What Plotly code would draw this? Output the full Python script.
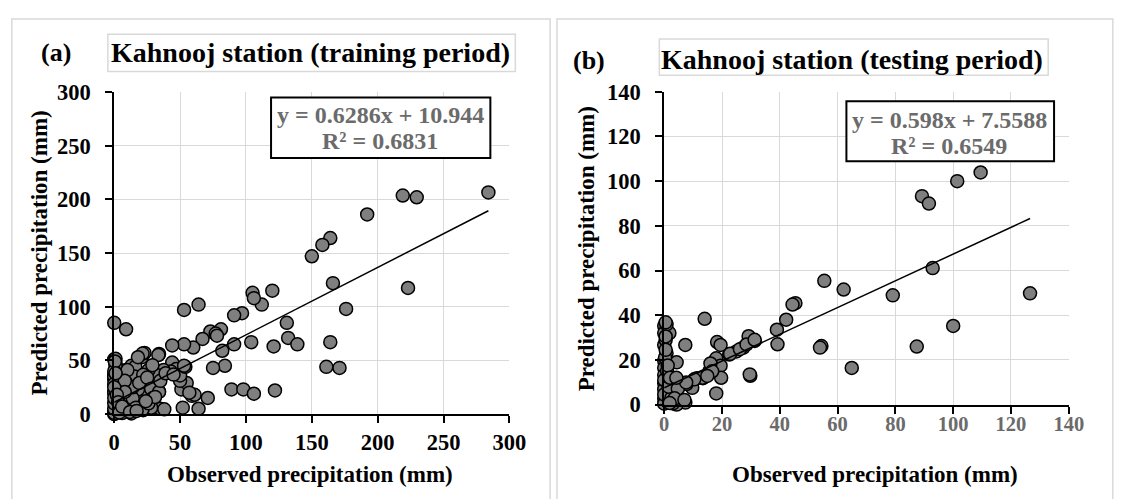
import plotly.graph_objects as go

# ---------------- data ----------------
train_obs = [284, 219, 229.6, 192, 164, 158, 150, 223, 166, 176, 112, 105, 106, 120, 97, 91, 64, 53,
             0, 9, 131, 132, 139, 164, 161, 171, 121, 104, 91, 82, 84, 75, 81, 73, 77, 78, 67, 60, 53, 44,
             89, 98, 106, 122, 71, 64, 52, 51, 55, 59, 61, 57, 50, 44, 47, 43, 50, 54, 53,
             0, 1, 1, 0, 0, 2, 0, 1, 2, 2, 5, 9, 13, 16, 21, 23, 34, 29, 37.5, 14, 11.4, 11.4, 9, 14, 18,
             22, 25, 28, 33, 34, 30, 29, 35, 22, 13, 6, 15.4, 22, 18, 5, 7.5, 5, 9, 29, 34, 26, 22,
             10, 1, 1, 0, 0, 0, 1.5, 4, 9, 14, 14, 19, 25, 28, 29, 28, 38, 21.5, 34, 35, 39, 45, 8, 8,
             16.5, 0, 21.5, 33.5, 18, 29, 0, 0, 0, 0, 0, 0, 0, 0.5, 1, 2, 3, 4, 6, 12, 26, 31, 24, 17]
train_pred = [206.5, 203.6, 202, 186, 164, 157.6, 147, 117.5, 122, 98, 102, 113, 108, 115, 94, 92, 102, 97,
              85, 79, 85, 71, 65, 67, 44, 43, 63, 67, 65, 59, 45, 43, 79, 77, 75, 73, 70, 62, 65, 64,
              23, 23, 19, 22, 15, 5, 6, 23, 29, 17, 18, 20, 31, 48, 42, 39.6, 36, 44, 45,
              51, 47, 42, 36, 32, 26, 20, 14, 8, 3.6, 2, 41, 45, 44, 53, 57, 56, 45, 41, 26, 18.5, 14, 8, 5, 9.5,
              14, 21, 26, 29, 21, 14, 6.5, 5, 3.6, 0.6, 1, 35, 29, 23, 23, 17, 11, 29, 35, 36, 41, 36.6,
              41, 51.5, 45.6, 35, 28, 20.6, 12, 4.4, 9, 14.7, 25, 29, 34, 23.5, 14.7, 6, 4.4, 4.4, 20.6, 31, 38, 36.8, 31, 20.6,
              6, 3, 56.4, 55, 53, 45.6, 0, 1, 5, 10, 15, 25, 40, 49, 38, 18, 11, 1.5, 7, 2, 10, 16, 12, 3]

test_obs = [109.5, 101.4, 89.2, 91.6, 126.6, 100, 92.9, 79.1, 87.4, 64.9, 62.1, 55.4, 54.4, 53.9,
            45.4, 44.4, 42.2, 39, 39.2, 31.3, 29.2, 27.4, 25, 22.5, 29.8, 18.3, 19.5, 18, 19.5, 19.7, 18,
            14, 15.8, 13.4, 11.3, 9.7, 7.3, 7.7, 7.3, 4.3, 4.3, 4.3,
            0, 0.8, 0, 1.8, 0, 0.8, 0, 0, 0, 0, 0, 0, 0, 1.8, 0.8, 0.5, 0, 1, 0.3, 0.5, 1.2, 0, 2.5, 3, 1.5, 2,
            22.8, 26.2, 28.5, 31.3, 29.6, 16, 16.6, 4.7, 3.6, 1.9, 13.2, 14.9, 10.4, 7.6, 7, 4.2, 0.5, 0.5]
test_pred = [103.9, 100, 93.3, 90, 49.8, 35.2, 61.1, 48.9, 26, 16.4, 51.5, 55.4, 26.2, 25.5,
             45.4, 44.8, 38, 33.5, 27, 28.5, 30.6, 25.5, 23.8, 22.4, 12.9, 28, 26.7, 20.7, 17.4, 12, 5,
             38.4, 15.3, 11.8, 11.8, 7.5, 26.7, 9.2, 0.9, 18.9, 6.8, 0,
             35.2, 33.7, 32, 32, 26.7, 23, 19.6, 16.4, 13.2, 9.6, 6.8, 2.6, 0.4, 1.1, 35.9, 29, 11, 15, 21, 24.5, 17.5, 4.5, 3, 0.5, 8, 12,
             22.7, 24.8, 26.9, 29, 13.5, 18.4, 14.9, 7.1, 2.8, 0.7, 12, 12.8, 11.3, 9.9, 2.1, 12, 36.8, 30.5]

slopes = [0.6286, 0.598]
intercepts = [10.944, 7.5588]
r_squared = [0.6831, 0.6549]
eq_texts = ["y = 0.6286x + 10.944", "y = 0.598x + 7.5588"]
r2_texts = ["R² = 0.6831", "R² = 0.6549"]
panel_titles = ["Kahnooj station (training period)", "Kahnooj station (testing period)"]
panel_letters = ["(a)", "(b)"]
axis_max = [300, 140]
axis_step = [50, 20]
x_title = "Observed precipitation (mm)"
y_title = "Predicted precipitation (mm)"

# ---------------- layout helpers ----------------
W, H = 1122, 499
def px(x):
    return x / W
def py(y):
    return 1 - y / H

FONT = "Liberation Serif"
GRID = "#d9d9d9"
GRAYTXT = "#6b6b6b"

fig = go.Figure()

datasets = [(train_obs, train_pred), (test_obs, test_pred)]
xaxes = ["x", "x2"]
yaxes = ["y", "y2"]
for i, (xo, yp) in enumerate(datasets):
    fig.add_trace(go.Scatter(
        x=xo, y=yp, mode="markers", xaxis=xaxes[i], yaxis=yaxes[i],
        marker=dict(size=13, color="#7f7f7f", line=dict(color="black", width=1.5)),
        cliponaxis=False, showlegend=False, hoverinfo="skip"))
    x0, x1 = min(xo), max(xo)
    fig.add_trace(go.Scatter(
        x=[x0, x1], y=[slopes[i] * x0 + intercepts[i], slopes[i] * x1 + intercepts[i]],
        mode="lines", xaxis=xaxes[i], yaxis=yaxes[i],
        line=dict(color="black", width=1.5), showlegend=False, hoverinfo="skip"))

# plot-area pixel geometry
areas = [dict(l=110.5, r=514, t=84.3, b=423.3), dict(l=672, r=1085, t=84, b=413.3)]

def axis_common(maxv, step, tickcolor_lbl, standoff, size):
    return dict(range=[0, maxv], dtick=step, tick0=0, showline=True, linecolor="black",
                linewidth=2, showgrid=True, gridcolor=GRID, gridwidth=1, zeroline=False,
                ticks="outside", ticklen=7, tickwidth=2, tickcolor="black",
                tickfont=dict(family=FONT, size=size, color=tickcolor_lbl, weight="bold"),
                ticklabelstandoff=standoff, fixedrange=True)

fig.update_layout(
    xaxis=dict(domain=[px(areas[0]["l"]), px(areas[0]["r"])], anchor="y",
               **axis_common(axis_max[0], axis_step[0], "black", 0, 22.5)),
    yaxis=dict(domain=[py(areas[0]["b"]), py(areas[0]["t"])], anchor="x",
               **axis_common(axis_max[0], axis_step[0], "black", 10, 22.5)),
    xaxis2=dict(domain=[px(areas[1]["l"]), px(areas[1]["r"])], anchor="y2",
                **axis_common(axis_max[1], axis_step[1], GRAYTXT, -7, 20.5)),
    yaxis2=dict(domain=[py(areas[1]["b"]), py(areas[1]["t"])], anchor="x2",
                **axis_common(axis_max[1], axis_step[1], "black", 10, 22.5)),
)

shapes = []
annotations = []
# panel borders
for (x0, y0, x1, y1) in [(6, 7.5, 555.5, 520), (562.5, 7.5, 1130, 520)]:
    shapes.append(dict(type="rect", xref="paper", yref="paper", x0=px(x0), x1=px(x1),
                       y0=py(y1), y1=py(y0), line=dict(color="#d9d9d9", width=1.5),
                       fillcolor="rgba(0,0,0,0)", layer="below"))
# title boxes
title_boxes = [(104, 23.3, 520, 62.7), (667, 28.3, 1064, 66.7)]
for (x0, y0, x1, y1) in title_boxes:
    shapes.append(dict(type="rect", xref="paper", yref="paper", x0=px(x0), x1=px(x1),
                       y0=py(y1), y1=py(y0), line=dict(color="#d9d9d9", width=1.5),
                       fillcolor="white", layer="below"))
# equation boxes
eq_boxes = [(270.6, 90, 494.5, 153.7), (858, 94, 1070, 157)]
for (x0, y0, x1, y1) in eq_boxes:
    shapes.append(dict(type="rect", xref="paper", yref="paper", x0=px(x0), x1=px(x1),
                       y0=py(y1), y1=py(y0), line=dict(color="black", width=2),
                       fillcolor="white", layer="above"))

def ann(text, x, y, size, color="black", angle=0):
    annotations.append(dict(text=text, x=px(x), y=py(y), xref="paper", yref="paper",
                            showarrow=False, xanchor="center", yanchor="middle", textangle=angle,
                            font=dict(family=FONT, size=size, color=color, weight="bold")))

title_pos = [(311, 43), (864, 50)]
letter_pos = [(51, 43), (595, 51)]
eq_pos = [(382, 108, 136), (963, 114, 141)]
xt_pos = [(310, 487), (887, 487)]
yt_pos = [(34, 254), (593, 249)]
for i in range(2):
    ann(panel_titles[i], *title_pos[i], 28)
    ann(panel_letters[i], *letter_pos[i], 26)
    ann(eq_texts[i], eq_pos[i][0], eq_pos[i][1], 24, GRAYTXT)
    ann(r2_texts[i], eq_pos[i][0], eq_pos[i][2], 24, GRAYTXT)
    ann(x_title, *xt_pos[i], 23)
    ann(y_title, *yt_pos[i], 23, angle=-90)

fig.update_layout(
    width=W, height=H, autosize=False,
    margin=dict(l=0, r=0, t=0, b=0),
    paper_bgcolor="white", plot_bgcolor="white",
    shapes=shapes, annotations=annotations, showlegend=False,
)

fig.write_html("out.html", config={"displayModeBar": False},
               post_script="document.body.style.margin='0';document.body.style.overflow='hidden';")
